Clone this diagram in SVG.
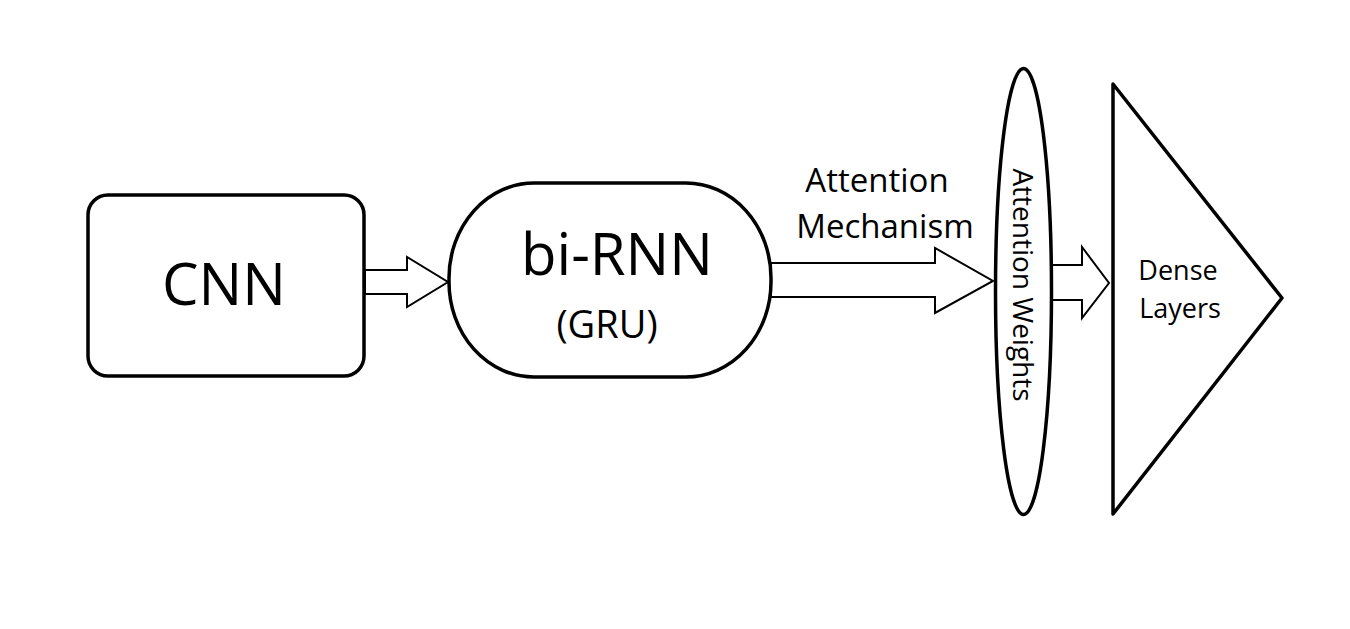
<svg xmlns="http://www.w3.org/2000/svg" width="1350" height="629" viewBox="0 0 1350 629">
<style>
.shape{fill:#fff;stroke:#000;stroke-width:3.5;stroke-linejoin:round}
.arrow{fill:#fff;stroke:#000;stroke-width:2;stroke-linejoin:miter}
text{font-family:"Open Sans","Noto Sans","DejaVu Sans",sans-serif;fill:#000;text-anchor:middle}
</style>
<rect width="1350" height="629" fill="#fff"/>
<g id="connectors">
<polygon class="arrow" points="365,270 407,270 407,257 448,282 407,307 407,294 365,294"/>
<polygon class="arrow" points="771,263 935,263 935,248 993,281 935,313 935,297 771,297"/>
<polygon class="arrow" points="1052,265 1082,265 1082,247 1109,283 1082,318 1082,300 1052,300"/>
</g>
<g id="cnn">
<rect class="shape" x="88" y="195" width="276" height="181" rx="20" ry="20"/>
<text x="224" y="305" font-size="58">CNN</text>
</g>
<g id="birnn">
<rect class="shape" x="449" y="183" width="322" height="194" rx="85" ry="95"/>
<text x="617" y="275" font-size="58">bi-RNN</text>
<text x="607" y="338" font-size="38">(GRU)</text>
</g>
<g id="attention-label">
<text x="877" y="192" font-size="33">Attention</text>
<text x="885" y="238" font-size="33">Mechanism</text>
</g>
<g id="attention-weights">
<ellipse class="shape" cx="1023.5" cy="291.5" rx="28" ry="223"/>
<text transform="translate(1013,285) rotate(90)" x="0" y="0" font-size="28">Attention Weights</text>
</g>
<g id="dense">
<polygon class="shape" points="1113,84 1282,298 1113,514"/>
<text x="1178" y="280" font-size="27">Dense</text>
<text x="1180" y="318" font-size="27">Layers</text>
</g>
</svg>
